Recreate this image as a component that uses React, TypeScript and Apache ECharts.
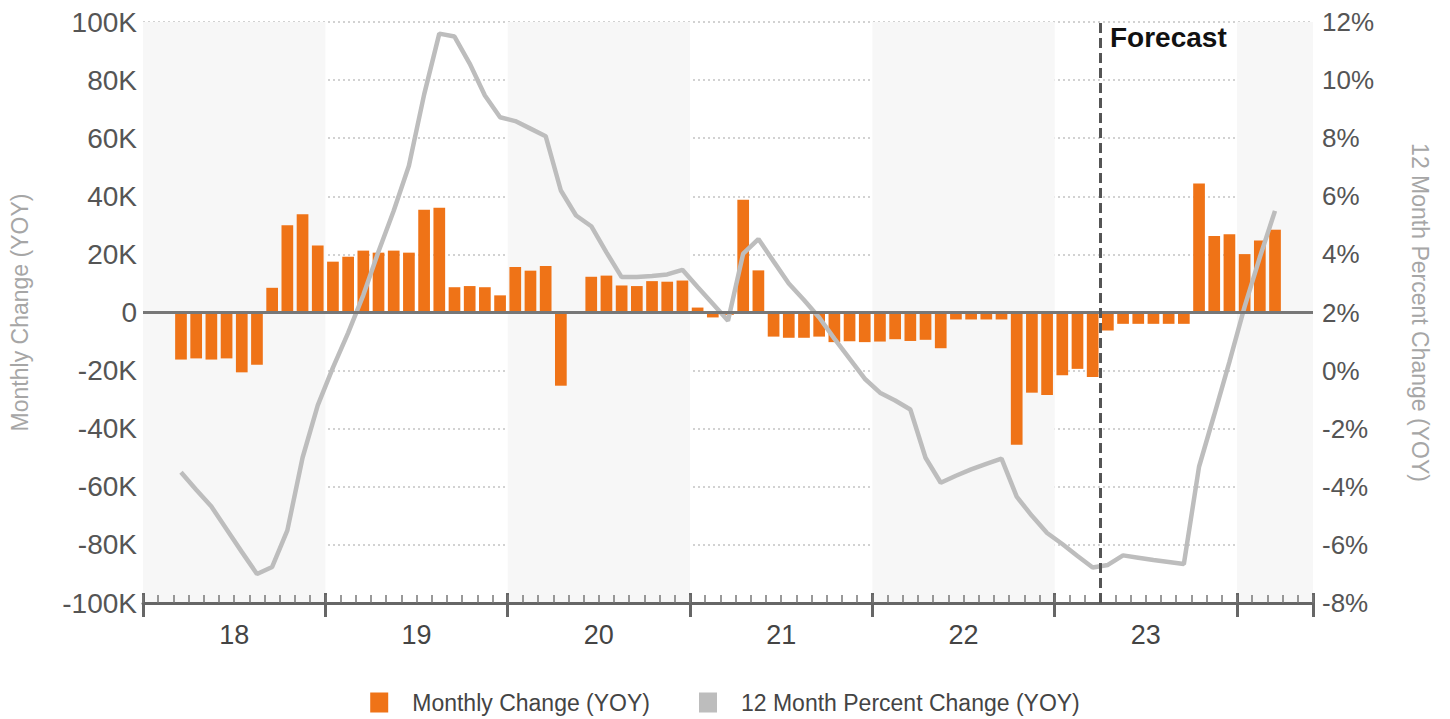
import React, { useEffect, useRef } from "react";
import * as echarts from "echarts";

// ---- Data ----
const yearLabels = ["18", "19", "20", "21", "22", "23"];
const monthsPerYear = 12;
const totalMonths = 77; // Jan 18 .. May 24 slots
const firstMonth = 2; // first data month index (0-based from start of year 18)
const forecastMonth = 63; // boundary where the forecast begins

// Monthly Change (YOY), thousands
const monthlyChangeK = [
  -16.2, -15.8, -16.2, -15.8, -20.6, -18.0,
  8.5, 30.0, 33.8, 23.1, 17.5, 19.2, 21.3, 20.6, 21.3, 20.6, 35.4, 36.1,
  8.7, 9.1, 8.7, 5.9, 15.7, 14.4, 16.0, -25.2, 0.4, 12.3, 12.7, 9.3,
  9.1, 10.8, 10.6, 11.0, 1.7, -1.7, -0.8, 38.8, 14.5, -8.3, -8.7, -8.7,
  -8.3, -10.2, -9.9, -10.2, -10.0, -9.2, -9.8, -9.4, -12.3, -2.4, -2.4, -2.4,
  -2.4, -45.5, -27.6, -28.4, -21.6, -19.4, -22.2, -6.2, -3.9, -3.9, -3.9, -3.9,
  -3.9, 44.4, 26.3, 26.9, 20.1, 24.8, 28.5,
];

// 12 Month Percent Change (YOY), %
const pctChange = [
  -3.5, -4.1, -4.68, -5.46, -6.24, -7.0,
  -6.76, -5.5, -3.0, -1.2, 0.1, 1.3, 2.6, 4.1, 5.5, 7.05, 9.5, 11.6,
  11.5, 10.57, 9.47, 8.72, 8.59, 8.33, 8.07, 6.2, 5.34, 4.97, 4.07, 3.22,
  3.22, 3.26, 3.31, 3.47, 2.88, 2.3, 1.72, 4.03, 4.53, 3.76, 3.0, 2.43,
  1.83, 1.1, 0.41, -0.28, -0.76, -1.03, -1.34, -3.0, -3.86, -3.62, -3.4, -3.21,
  -3.03, -4.34, -5.0, -5.59, -5.97, -6.38, -6.78, -6.69, -6.36, -6.44, -6.52, -6.59,
  -6.66, -3.31, -1.52, 0.3, 2.2, 3.9, 5.5,
];

const leftTicksK = { min: -100, max: 100, step: 20 };
const rightTicksPct = { min: -8, max: 12, step: 2 };

const seriesNames = ["Monthly Change (YOY)", "12 Month Percent Change (YOY)"];

export default function App() {
  const ref = useRef<HTMLDivElement>(null);

  useEffect(() => {
    if (!ref.current) return;
    const chart = echarts.init(ref.current, undefined, { renderer: "svg" });

    const barData = monthlyChangeK.map((v, k) => [firstMonth + k + 0.5, v * 1000]);
    const lineData = pctChange.map((v, k) => [firstMonth + k + 0.5, v]);

    const font = "Liberation Sans, Arial, sans-serif";
    const baseX = {
      type: "value" as const,
      position: "bottom" as const,
      min: 0,
      max: totalMonths,
      splitLine: { show: false },
    };

    const option: any = {
      animation: false,
      backgroundColor: "#ffffff",
      textStyle: { fontFamily: font },
      grid: { left: 143, right: 137, top: 22, bottom: 116 },
      legend: {
        data: seriesNames,
        top: 686,
        left: "center",
        icon: "rect",
        itemWidth: 18,
        itemHeight: 20,
        itemGap: 49,
        textStyle: { fontSize: 23, color: "#444", fontFamily: font, padding: [0, 0, 0, 19] },
      },
      xAxis: [
        {
          ...baseX,
          interval: monthsPerYear,
          axisLine: { show: true, onZero: false, lineStyle: { color: "#666", width: 3 } },
          axisTick: { show: true, inside: false, length: 14, lineStyle: { color: "#666", width: 3 } },
          axisLabel: { show: false },
          splitArea: { show: true, areaStyle: { color: ["#f7f7f7", "rgba(255,255,255,0)"] } },
        },
        {
          ...baseX,
          interval: monthsPerYear,
          axisLine: { show: false, onZero: false },
          axisTick: { show: true, inside: true, length: 10, lineStyle: { color: "#666", width: 3 } },
          axisLabel: { show: false },
        },
        {
          ...baseX,
          interval: 1,
          axisLine: { show: false, onZero: false },
          axisTick: { show: true, inside: true, length: 8, lineStyle: { color: "#777", width: 1.5 } },
          axisLabel: { show: false },
        },
        {
          ...baseX,
          interval: monthsPerYear / 2,
          axisLine: { show: false, onZero: false },
          axisTick: { show: false },
          axisLabel: {
            show: true,
            margin: 18,
            fontSize: 27,
            color: "#444",
            fontFamily: font,
            formatter: (v: number) => {
              const k = (v - monthsPerYear / 2) / monthsPerYear;
              return Number.isInteger(k) && k >= 0 && k < yearLabels.length ? yearLabels[k] : "";
            },
          },
        },
      ],
      yAxis: [
        {
          type: "value",
          min: leftTicksK.min * 1000,
          max: leftTicksK.max * 1000,
          interval: leftTicksK.step * 1000,
          name: "Monthly Change (YOY)",
          nameLocation: "middle",
          nameRotate: 90,
          nameGap: 112,
          nameTextStyle: { fontSize: 23, color: "#a6a6a6", fontFamily: font },
          axisLine: { show: false, onZero: false },
          axisTick: { show: false },
          axisLabel: {
            fontSize: 28,
            color: "#555",
            margin: 6,
            fontFamily: font,
            formatter: (v: number) => (v === 0 ? "0" : `${v / 1000}K`),
          },
          splitLine: { show: true, lineStyle: { color: "#c4c4c4", width: 1.5, type: [2, 3] } },
        },
        {
          type: "value",
          min: rightTicksPct.min,
          max: rightTicksPct.max,
          interval: rightTicksPct.step,
          position: "right",
          name: "12 Month Percent Change (YOY)",
          nameLocation: "middle",
          nameRotate: -90,
          nameGap: 95,
          nameTextStyle: { fontSize: 23, color: "#a6a6a6", fontFamily: font },
          axisLine: { show: false, onZero: false },
          axisTick: { show: false },
          axisLabel: {
            fontSize: 26,
            color: "#555",
            margin: 9,
            fontFamily: font,
            formatter: (v: number) => `${v}%`,
          },
          splitLine: { show: false },
        },
      ],
      series: [
        {
          name: seriesNames[0],
          type: "bar",
          xAxisIndex: 0,
          yAxisIndex: 0,
          data: barData,
          barWidth: 11.7,
          itemStyle: { color: "#ef7317" },
          markLine: {
            silent: true,
            symbol: "none",
            label: { show: false },
            data: [
              { yAxis: 0, lineStyle: { color: "#777", width: 3, type: "solid" } },
              { xAxis: forecastMonth, lineStyle: { color: "#555", width: 3, type: [10, 5] } },
            ],
          },
        },
        {
          name: seriesNames[1],
          type: "line",
          xAxisIndex: 0,
          yAxisIndex: 1,
          data: lineData,
          symbol: "none",
          color: "#bdbdbd",
          lineStyle: { color: "#bdbdbd", width: 4.5 },
          z: 4,
        },
      ],
      graphic: [
        {
          type: "text",
          left: 1110,
          top: 23,
          style: {
            text: "Forecast",
            fontSize: 28,
            fontWeight: "bold",
            fill: "#111",
            fontFamily: font,
          },
        },
      ],
    };

    chart.setOption(option);
    return () => chart.dispose();
  }, []);

  return (
    <div
      ref={ref}
      style={{ position: "fixed", left: 0, top: 0, width: 1450, height: 719, background: "#fff" }}
    />
  );
}
